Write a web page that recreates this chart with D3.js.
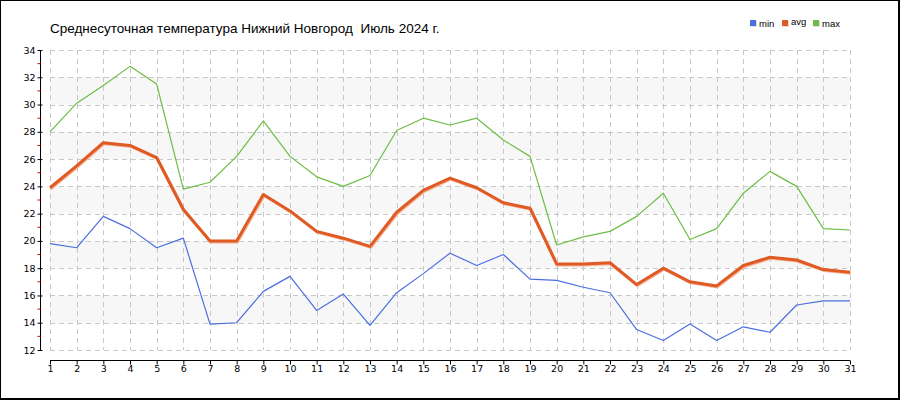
<!DOCTYPE html>
<html>
<head>
<meta charset="utf-8">
<script src="https://cdn.jsdelivr.net/npm/d3@7"></script>
<style>
  html, body { margin: 0; padding: 0; background: #fff; }
  svg { display: block; font-family: "Liberation Sans", Arial, sans-serif; }
</style>
</head>
<body>
<svg id="chart" width="900" height="400"></svg>
<script>
// Daily temperature, Nizhny Novgorod, July 2024.
const days = d3.range(1, 32);
const minTemp = [19.8, 19.5, 21.8, 20.9, 19.5, 20.2, 13.9, 14.0, 16.3, 17.4,
                 14.9, 16.1, 13.8, 16.2, 17.6, 19.1, 18.2, 19.0, 17.2, 17.1,
                 16.6, 16.2, 13.5, 12.7, 13.9, 12.7, 13.7, 13.3, 15.3, 15.6, 15.6];
const avgTemp = [23.9, 25.5, 27.2, 27.0, 26.1, 22.3, 20.0, 20.0, 23.4, 22.2,
                 20.7, 20.2, 19.6, 22.1, 23.7, 24.6, 23.9, 22.8, 22.4, 18.3,
                 18.3, 18.4, 16.8, 18.0, 17.0, 16.7, 18.2, 18.8, 18.6, 17.9, 17.7];
const maxTemp = [28.0, 30.1, 31.4, 32.8, 31.5, 23.8, 24.3, 26.2, 28.8, 26.2,
                 24.7, 24.0, 24.8, 28.1, 29.0, 28.5, 29.0, 27.4, 26.2, 19.7,
                 20.3, 20.7, 21.8, 23.5, 20.1, 20.9, 23.5, 25.1, 24.0, 20.9, 20.8];
const yTicks = d3.range(12, 35, 2);
const bands = [[14, 16], [18, 20], [22, 24], [26, 28], [30, 32]];
const title = 'Среднесуточная температура Нижний Новгород  Июль 2024 г.';
const series = [
  { name: 'min', values: minTemp, color: '#4a6ee0', width: 1.2 },
  { name: 'avg', values: avgTemp, color: '#e05a24', width: 3 },
  { name: 'max', values: maxTemp, color: '#6cbd45', width: 1.2 },
];

const svg = d3.select('#chart');
const x = d3.scaleLinear().domain([1, 31]).range([50, 850]);
const y = d3.scaleLinear().domain([12, 34]).range([350, 50]);

// frame
svg.append('rect').attr('x', 0.5).attr('y', 0.5).attr('width', 898).attr('height', 398)
  .attr('fill', '#fff').attr('stroke', '#000');
svg.append('line').attr('x1', 899).attr('x2', 899).attr('y1', 0).attr('y2', 400).attr('stroke', '#000').attr('stroke-width', 2);
svg.append('line').attr('x1', 0).attr('x2', 900).attr('y1', 399).attr('y2', 399).attr('stroke', '#000').attr('stroke-width', 2);

// shaded bands
svg.append('g').selectAll('rect').data(bands).join('rect')
  .attr('x', x(1)).attr('width', x(31) - x(1))
  .attr('y', d => y(d[1])).attr('height', d => y(d[0]) - y(d[1]))
  .attr('fill', '#f7f7f7');

// grid
const grid = svg.append('g').attr('stroke', '#c8c8c8').attr('stroke-dasharray', '5,4');
grid.selectAll('.h').data(yTicks).join('line').attr('class', 'h')
  .attr('x1', x(1)).attr('x2', x(31))
  .attr('y1', d => Math.round(y(d)) + 0.5).attr('y2', d => Math.round(y(d)) + 0.5);
grid.selectAll('.v').data(days).join('line').attr('class', 'v')
  .attr('x1', d => Math.round(x(d)) + 0.5).attr('x2', d => Math.round(x(d)) + 0.5)
  .attr('y1', y(34)).attr('y2', y(12));

// y axis
const yAxis = svg.append('g').attr('transform', 'translate(40.5,0)')
  .call(d3.axisLeft(y).tickValues(yTicks).tickSize(3).tickPadding(2).tickFormat(d3.format('d')));
yAxis.select('.domain').attr('d', `M0,${y(34)}V${y(12)}`).attr('stroke', '#000');
yAxis.selectAll('.tick line').attr('x2', -3).attr('x1', 2).attr('stroke', '#000');
yAxis.selectAll('.tick text').attr('fill', '#000')
  .attr('font-family', '"DejaVu Sans", sans-serif').style('font-size', '9.5px');
yAxis.selectAll('.minor').data(d3.range(13, 34, 2)).join('line').attr('class', 'minor')
  .attr('x1', -3).attr('x2', 0).attr('y1', d => y(d)).attr('y2', d => y(d))
  .attr('stroke', '#e00000');

// x axis
const xAxis = svg.append('g').attr('transform', 'translate(0,360.5)')
  .call(d3.axisBottom(x).tickValues(days).tickSize(4).tickPadding(1).tickFormat(d3.format('d')));
xAxis.select('.domain').attr('d', `M${x(1)},0H${x(31)}`).attr('stroke', '#000');
xAxis.selectAll('.tick line').attr('stroke', '#000');
xAxis.selectAll('.tick text').attr('fill', '#000')
  .attr('font-family', '"DejaVu Sans", sans-serif').style('font-size', '9.5px');

// lines
const line = d3.line().x((d, i) => x(days[i])).y(d => y(d));
svg.append('path').datum(avgTemp).attr('d', line)
  .attr('transform', 'translate(0.8,1)')
  .attr('fill', 'none').attr('stroke', '#f4b59a').attr('stroke-width', 3).attr('stroke-linejoin', 'round');
svg.append('g').selectAll('path').data(series).join('path')
  .attr('d', d => line(d.values))
  .attr('fill', 'none').attr('stroke', d => d.color).attr('stroke-width', d => d.width)
  .attr('stroke-linejoin', 'round');

// title
svg.append('text').attr('x', 50).attr('y', 33).attr('font-size', 13.5).attr('fill', '#000')
  .style('white-space', 'pre').text(title);

// legend
const legendX = [750, 782, 813];
const lg = svg.append('g').selectAll('g').data(series).join('g')
  .attr('transform', (d, i) => `translate(${legendX[i]},20)`);
lg.append('rect').attr('x', 1).attr('y', 1).attr('width', 6).attr('height', 6).attr('fill', '#ddd');
lg.append('rect').attr('width', 6).attr('height', 6).attr('fill', d => d.color);
lg.append('text').attr('x', 9).attr('y', (d, i) => i === 1 ? 5 : 6.5).attr('font-size', 9.5)
  .attr('fill', '#000').text(d => d.name);
</script>
</body>
</html>
